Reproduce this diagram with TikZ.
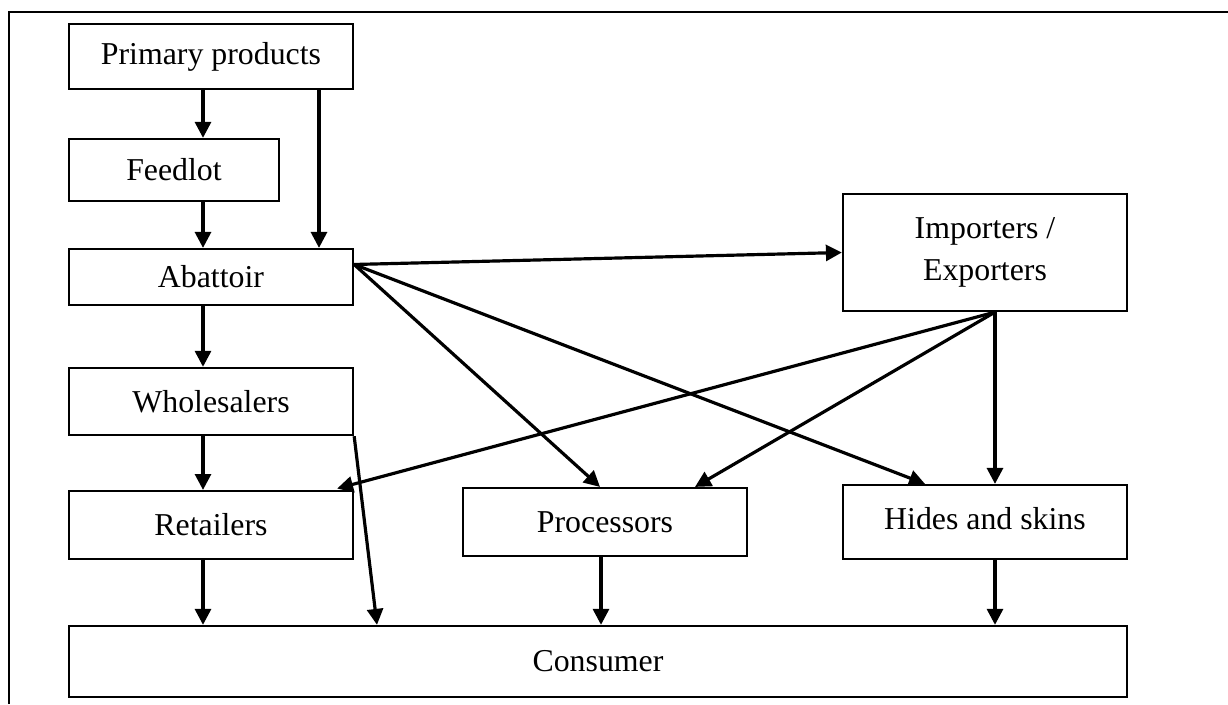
\documentclass[12pt,tikz,border=0pt]{standalone}
\usepackage{fontspec}
\setmainfont{Liberation Serif}
\usetikzlibrary{arrows.meta,calc}

\begin{document}
\begin{tikzpicture}[x=0.377pt,y=-0.377pt]%
  \tikzstyle{boxn}=[rectangle,draw,line width=0.85pt,inner sep=0,align=center]
  \tikzstyle{arrn}=[line width=1.2pt,-{Triangle[length=6pt,width=6pt]}]
  \useasboundingbox (0,0) rectangle (1228,704);
  \draw[line width=0.85pt] (9,704) -- (9,12) -- (1228,12);
  \node(prim)[boxn,minimum width=107.1pt,minimum height=24.5pt] at (211,56.5) {Primary products};
  \node(feed)[boxn,minimum width=79.2pt,minimum height=23.4pt] at (174,170) {Feedlot};
  \node(abat)[boxn,minimum width=107.1pt,minimum height=21.1pt] at (211,277) {Abattoir};
  \node(whol)[boxn,minimum width=107.1pt,minimum height=25.3pt] at (211,401.5) {Wholesalers};
  \node(reta)[boxn,minimum width=107.1pt,minimum height=25.6pt] at (211,525) {Retailers};
  \node(proc)[boxn,minimum width=107.1pt,minimum height=25.6pt] at (605,522) {Processors};
  \node(hide)[boxn,minimum width=107.1pt,minimum height=27.9pt] at (985,522) {\raisebox{2.6pt}{Hides and skins}};
  \node(impo)[boxn,minimum width=107.1pt,minimum height=44.1pt] at (985,252.5) {Importers /\\[1.6pt] Exporters};
  \node(cons)[boxn,minimum width=398.9pt,minimum height=26.8pt] at (598,661.5) {Consumer};
  \coordinate (lc) at (203,0);
  \coordinate (rc) at (319,0);
  \coordinate (wc) at (377,0);
  \coordinate (ib) at ($(impo.south)+(10,0)$);
  \draw[arrn] (prim.south -| lc) -- (feed.north -| lc);
  \draw[arrn] (prim.south -| rc) -- (abat.north -| rc);
  \draw[arrn] (feed.south -| lc) -- (abat.north -| lc);
  \draw[arrn] (abat.south -| lc) -- (whol.north -| lc);
  \draw[arrn] (whol.south -| lc) -- (reta.north -| lc);
  \draw[arrn] (reta.south -| lc) -- (cons.north -| lc);
  \draw[arrn] (whol.south east) -- (cons.north -| wc);
  \draw[arrn] (abat.5) -- (impo.west);
  \draw[arrn] (abat.5) -- ($(proc.north)+(-5,0)$);
  \draw[arrn] (abat.5) -- ($(hide.north)+(-60,0)$);
  \draw[arrn,shorten >=2pt] (ib) -- ($(reta.north)+(121,0)$);
  \draw[arrn] (ib) -- ($(proc.north)+(90,0)$);
  \draw[arrn] (ib) -- (hide.north -| ib);
  \draw[arrn] ($(proc.south)+(-4,0)$) -- ($(cons.north -| proc.south)+(-4,0)$);
  \draw[arrn] (hide.south -| ib) -- (cons.north -| ib);
\end{tikzpicture}
\end{document}
